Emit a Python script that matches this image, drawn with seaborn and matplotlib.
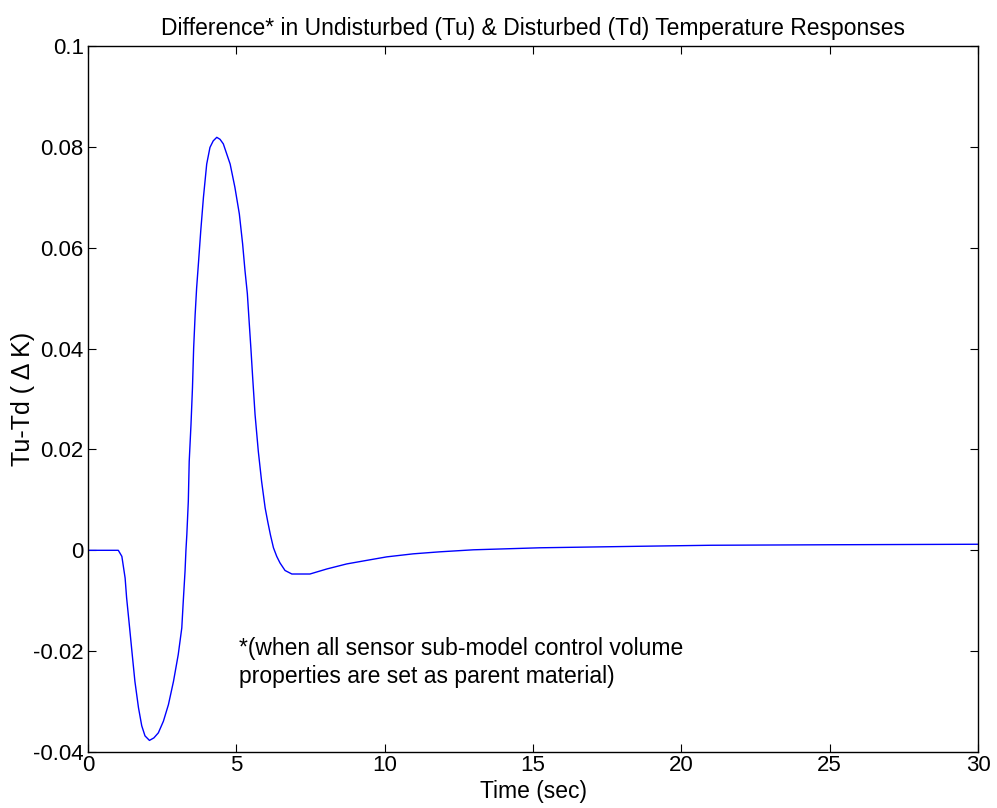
import pandas as pd
import matplotlib
matplotlib.use("Agg")
import matplotlib.pyplot as plt
import seaborn as sns

# values
time_sec = [0.0, 1.02, 1.14, 1.25, 1.30, 1.39, 1.49, 1.58, 1.70, 1.81, 1.92, 2.07,
            2.22, 2.37, 2.54, 2.71, 2.88, 3.04, 3.16, 3.21, 3.27, 3.30, 3.33, 3.38,
            3.41, 3.47, 3.52, 3.56, 3.61, 3.66, 3.72, 3.80, 3.89, 4.00, 4.11, 4.22,
            4.34, 4.45, 4.56, 4.79, 4.95, 5.10, 5.21, 5.29, 5.37, 5.43, 5.49, 5.55,
            5.63, 5.74, 5.85, 5.97, 6.06, 6.15, 6.25, 6.36, 6.47, 6.64, 6.87, 7.48,
            8.05, 8.72, 9.39, 10.07, 10.96, 11.86, 12.99, 15.23, 18.6, 21.0, 25.0, 30.0]
tu_minus_td = [0.0, 0.0, -0.0012, -0.0055, -0.0094, -0.0147, -0.0207, -0.026, -0.0312,
               -0.0348, -0.0368, -0.0377, -0.0372, -0.0362, -0.0339, -0.0306, -0.026,
               -0.0207, -0.0154, -0.0101, -0.0041, 0.0, 0.0031, 0.0097, 0.0176, 0.0249,
               0.0322, 0.0401, 0.0467, 0.0520, 0.0568, 0.0634, 0.0700, 0.0766, 0.0799,
               0.0812, 0.0819, 0.0815, 0.0806, 0.0766, 0.0720, 0.0667, 0.0608, 0.0555,
               0.0509, 0.0454, 0.0400, 0.0342, 0.0269, 0.0196, 0.0137, 0.0084, 0.0056,
               0.0030, 0.0005, -0.0012, -0.0025, -0.0040, -0.0047, -0.0047, -0.0037,
               -0.0027, -0.0020, -0.0013, -0.0007, -0.0003, 0.0001, 0.0005, 0.0008,
               0.0010, 0.0011, 0.0012]

df = pd.DataFrame({"Time": time_sec, "Diff": tu_minus_td})

sns.set_style("ticks")
plt.rcParams['font.family'] = ['Liberation Sans', 'DejaVu Sans']
plt.rcParams['text.color'] = 'black'
plt.rcParams['axes.labelcolor'] = 'black'
plt.rcParams['xtick.color'] = 'black'
plt.rcParams['ytick.color'] = 'black'

fig = plt.figure(figsize=(9.97, 8.08), dpi=100)
ax = fig.add_axes([0.0883, 0.0693, 0.8927, 0.8737])

sns.lineplot(data=df, x="Time", y="Diff", color="#0000ff", linewidth=1.0, ax=ax)

ax.set_xlim(0, 30)
ax.set_ylim(-0.04, 0.1)
ax.set_xticks([0, 5, 10, 15, 20, 25, 30])
ax.set_yticks([-0.04, -0.02, 0, 0.02, 0.04, 0.06, 0.08, 0.1])
ax.set_yticklabels(["-0.04", "-0.02", "0", "0.02", "0.04", "0.06", "0.08", "0.1"])
ax.tick_params(direction="in", top=True, right=True, length=6, width=0.8,
               labelsize=16, pad=3)
ax.tick_params(axis="x", pad=2)
for s in ax.spines.values():
    s.set_linewidth(1.0)
    s.set_color("black")

ax.set_title("Difference* in Undisturbed (Tu) & Disturbed (Td) Temperature Responses",
             fontsize=16.5, pad=8)
ax.set_xlabel("Time (sec)", fontsize=16.5, labelpad=3)
ax.set_ylabel("Tu-Td ( \u0394 K)", fontsize=18, labelpad=-1)

ax.text(5.1, -0.0222, "*(when all sensor sub-model control volume\nproperties are set as parent material)",
        fontsize=16.5, va="center", ha="left", linespacing=1.3)

fig.savefig("out.png", dpi=100)
